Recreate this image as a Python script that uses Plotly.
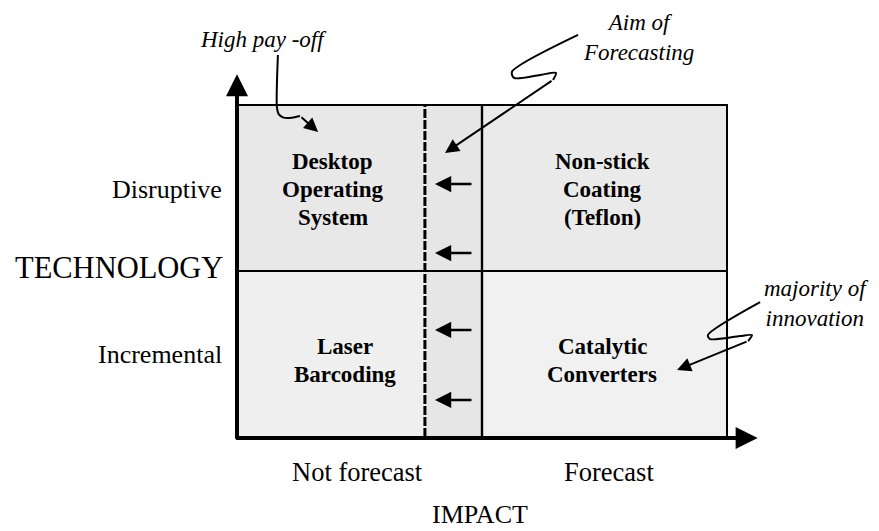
import plotly.graph_objects as go

# ---------------- data (diagram units: box spans 0..2 on both axes) ----------------
impact_labels = ["Not forecast", "Forecast"]
impact_x = [0.49, 1.52]
technology_labels = ["Disruptive", "Incremental"]
technology_y = [1.49, 0.5]
axis_titles = ["TECHNOLOGY", "IMPACT"]

quadrant_lines = [
    ["Desktop", "Operating", "System"],
    ["Non-stick", "Coating", "(Teflon)"],
    ["Laser", "Barcoding"],
    ["Catalytic", "Converters"],
]
quadrant_x = [0.39, 1.49, 0.44, 1.49]
quadrant_y = [1.49, 1.49, 0.46, 0.46]

forecast_frontier = 0.767          # dashed boundary inside "Not forecast"
shift_arrow_y = [1.524, 1.108, 0.645, 0.223]

notes = ["High pay -off", "Aim of<br>Forecasting", "majority of<br>innovation"]
note_x = [0.11, 1.637, 2.367]
note_y = [2.392, 2.404, 0.807]

payoff_path_x = [0.167, 0.163, 0.170, 0.190, 0.216, 0.257]
payoff_path_y = [2.301, 1.985, 1.945, 1.924, 1.922, 1.934]
payoff_tip = (0.331, 1.837)

aim_path_x = [1.392, 1.122, 1.131, 1.237, 1.302, 1.290]
aim_path_y = [2.422, 2.199, 2.163, 2.181, 2.193, 2.151]
aim_tip = (0.849, 1.711)

maj_path_x = [2.135, 1.922, 1.931, 2.053, 2.102, 2.086]
maj_path_y = [0.813, 0.614, 0.590, 0.608, 0.614, 0.578]
maj_tip = (1.796, 0.404)

# ---------------- figure ----------------
PAGE_MARGIN = 8                      # default body margin of the html page
W, H = 879 - PAGE_MARGIN, 531 - PAGE_MARGIN
X0, XU = 237 - PAGE_MARGIN, 245      # figure pixel of x=0, pixels per unit
Y0, YU = 437 - PAGE_MARGIN, 166
xr = [-X0 / XU, (W - X0) / XU]
yr = [-(H - Y0) / YU, Y0 / YU]

FONT = "Liberation Serif, Times New Roman, serif"
fig = go.Figure()

shapes = []
fills = [(0, 1, 1, 2, "#e8e8e8"), (1, 2, 1, 2, "#eaeaea"),
         (0, 1, 0, 1, "#efefef"), (1, 2, 0, 1, "#f1f1f1")]
for xa, xb, ya, yb, c in fills:
    shapes.append(dict(type="rect", x0=xa, x1=xb, y0=ya, y1=yb, xref="x", yref="y",
                       fillcolor=c, line=dict(width=0), layer="below"))
shapes.append(dict(type="rect", x0=forecast_frontier, x1=1, y0=0, y1=2, xref="x", yref="y",
                   fillcolor="#e6e6e6", line=dict(width=0), layer="below"))
shapes.append(dict(type="rect", x0=0, x1=2, y0=0, y1=2, line=dict(color="black", width=2)))
shapes.append(dict(type="line", x0=1, x1=1, y0=0, y1=2, line=dict(color="black", width=2.4)))
shapes.append(dict(type="line", x0=0, x1=2, y0=1, y1=1, line=dict(color="black", width=2)))
shapes.append(dict(type="line", x0=forecast_frontier, x1=forecast_frontier, y0=0, y1=2,
                   line=dict(color="black", width=3, dash="9px,2px")))

annotations = []
annotations.append(dict(x=0, y=2.185, ax=0, ay=-0.02, xref="x", yref="y", axref="x", ayref="y",
                        text="", showarrow=True, arrowhead=2, arrowsize=1.1, arrowwidth=4,
                        arrowcolor="black"))
annotations.append(dict(x=2.125, y=-0.006, ax=-0.01, ay=-0.006, xref="x", yref="y", axref="x",
                        ayref="y", text="", showarrow=True, arrowhead=2, arrowsize=1.1,
                        arrowwidth=4, arrowcolor="black"))

for yv in shift_arrow_y:
    annotations.append(dict(x=0.808, y=yv, ax=0.963, ay=yv, xref="x", yref="y", axref="x",
                            ayref="y", text="", showarrow=True, arrowhead=2, arrowsize=1.25,
                            arrowwidth=2.6, arrowcolor="black"))

for lab, xv in zip(impact_labels, impact_x):
    annotations.append(dict(x=xv, y=-0.21, text=lab, showarrow=False,
                            font=dict(family=FONT, size=26.5, color="black")))
for lab, yv in zip(technology_labels, technology_y):
    annotations.append(dict(x=-0.055, y=yv, text=lab, showarrow=False, xanchor="right",
                            font=dict(family=FONT, size=26, color="black")))
annotations.append(dict(x=-0.05, y=1.02, text=axis_titles[0], showarrow=False, xanchor="right",
                        font=dict(family=FONT, size=30.5, color="black")))
annotations.append(dict(x=0.99, y=-0.465, text=axis_titles[1], showarrow=False,
                        font=dict(family=FONT, size=26, color="black")))

LINE = 28 / YU
for lines, xv, yv in zip(quadrant_lines, quadrant_x, quadrant_y):
    n = len(lines)
    for i, t in enumerate(lines):
        annotations.append(dict(x=xv, y=yv + ((n - 1) / 2 - i) * LINE, text="<b>" + t + "</b>",
                                showarrow=False,
                                font=dict(family=FONT, size=23, color="black")))

for t, xv, yv in zip(notes, note_x, note_y):
    annotations.append(dict(x=xv, y=yv, text="<i>" + t + "</i>", showarrow=False,
                            font=dict(family=FONT, size=23, color="black")))

for px_, py_, tip in [(payoff_path_x, payoff_path_y, payoff_tip),
                      (aim_path_x, aim_path_y, aim_tip),
                      (maj_path_x, maj_path_y, maj_tip)]:
    fig.add_trace(go.Scatter(x=px_, y=py_, mode="lines", line=dict(color="black", width=2,
                             shape="spline", smoothing=0.8), hoverinfo="skip", showlegend=False))
    annotations.append(dict(x=tip[0], y=tip[1], ax=px_[-1], ay=py_[-1], xref="x", yref="y",
                            axref="x", ayref="y", text="", showarrow=True, arrowhead=2,
                            arrowsize=1.4, arrowwidth=2, arrowcolor="black"))

fig.update_layout(
    width=W, height=H, margin=dict(l=0, r=0, t=0, b=0),
    paper_bgcolor="white", plot_bgcolor="white",
    xaxis=dict(range=xr, visible=False, fixedrange=True),
    yaxis=dict(range=yr, visible=False, fixedrange=True),
    shapes=shapes, annotations=annotations, showlegend=False,
)

fig.write_html("out.html")
